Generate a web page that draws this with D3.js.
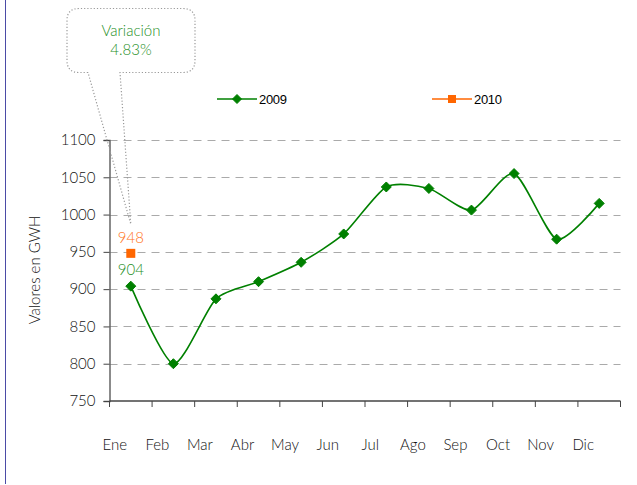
<!DOCTYPE html>
<html>
<head>
<meta charset="utf-8">
<script src="https://cdn.jsdelivr.net/npm/d3@7"></script>
<style>
  html, body { margin: 0; padding: 0; background: #fff; }
  svg { display: block; }
  .tick-label { font-family: Lato, "Open Sans", sans-serif; font-weight: 300; font-size: 15px; fill: #111; }
  .legend-label { font-family: "Liberation Sans", Arial, sans-serif; font-size: 13px; fill: #000; letter-spacing: -0.3px; }
</style>
</head>
<body>
<svg id="chart" width="637" height="485"></svg>
<script>
// data
var months = ["Ene", "Feb", "Mar", "Abr", "May", "Jun", "Jul", "Ago", "Sep", "Oct", "Nov", "Dic"];
var values2009 = [904, 800, 887, 910, 936, 974, 1037, 1035, 1006, 1055, 967, 1015];
var values2010 = [948];
var yTicks = [750, 800, 850, 900, 950, 1000, 1050, 1100];
var variation = "4.83%";

var svg = d3.select("#chart");
var plotLeft = 109.5, plotRight = 620.5, plotTop = 140, plotBottom = 401;
var green = "#008000", orange = "#ff6600";

var x = d3.scaleBand().domain(months).range([plotLeft, plotRight]);
var y = d3.scaleLinear().domain([750, 1100]).range([plotBottom, plotTop]);
var cx = function (i) { return x(months[i]) + x.bandwidth() / 2; };

// left frame line
svg.append("line")
    .attr("x1", 5.5).attr("x2", 5.5).attr("y1", 0).attr("y2", 484)
    .attr("stroke", "#4b4ba6").attr("stroke-width", 1);

// grid
svg.append("g").selectAll("line")
    .data(yTicks.filter(function (d) { return d > 750; }))
    .enter().append("line")
    .attr("x1", plotLeft).attr("x2", plotRight)
    .attr("y1", function (d) { return Math.round(y(d)) + 0.5; })
    .attr("y2", function (d) { return Math.round(y(d)) + 0.5; })
    .attr("stroke", "#aaa").attr("stroke-dasharray", "8,6");

// y axis
var yAxis = svg.append("g")
    .attr("transform", "translate(" + plotLeft + ",0)")
    .call(d3.axisLeft(y).tickValues(yTicks).tickSize(6).tickPadding(8).tickFormat(d3.format("d")));
yAxis.select(".domain").attr("stroke", "#666").attr("stroke-width", 1.5);
yAxis.selectAll(".tick line").attr("stroke", "#444");
yAxis.selectAll(".tick text").attr("class", "tick-label").attr("font-family", null).attr("font-size", null);

// x axis
var xTicks = d3.range(months.length + 1).map(function (i) { return plotLeft + i * x.bandwidth(); });
var xAxis = svg.append("g");
xAxis.append("line")
    .attr("x1", plotLeft).attr("x2", plotRight).attr("y1", plotBottom).attr("y2", plotBottom)
    .attr("stroke", "#444").attr("stroke-width", 1.5);
xAxis.selectAll(".xt").data(xTicks).enter().append("line")
    .attr("x1", function (d) { return d; }).attr("x2", function (d) { return d; })
    .attr("y1", plotBottom).attr("y2", plotBottom + 6)
    .attr("stroke", "#444");
xAxis.selectAll(".xl").data(months).enter().append("text")
    .attr("class", "tick-label")
    .attr("x", function (d, i) { return cx(i) - 16; })
    .attr("y", 450)
    .attr("text-anchor", "middle")
    .text(function (d) { return d; });

// axis title
svg.append("text")
    .attr("class", "tick-label")
    .attr("transform", "translate(40,270) rotate(-90)")
    .attr("text-anchor", "middle")
    .text("Valores en GWH");

// 2009 line
var line = d3.line()
    .x(function (d, i) { return cx(i); })
    .y(function (d) { return y(d); })
    .curve(d3.curveCardinal.tension(0.3));

svg.append("path")
    .datum(values2009)
    .attr("d", line)
    .attr("fill", "none")
    .attr("stroke", green)
    .attr("stroke-width", 1.6);

function diamond(g, px, py, r) {
    g.append("path")
        .attr("d", "M" + px + "," + (py - r) + "L" + (px + r) + "," + py + "L" + px + "," + (py + r) + "L" + (px - r) + "," + py + "Z")
        .attr("fill", green).attr("stroke", green).attr("stroke-width", 1);
}
var marks = svg.append("g");
values2009.forEach(function (v, i) { diamond(marks, cx(i), y(v), 5); });

// 2010 point
values2010.forEach(function (v, i) {
    svg.append("rect")
        .attr("x", cx(i) - 4.5).attr("y", y(v) - 4.5)
        .attr("width", 9).attr("height", 9)
        .attr("fill", orange);
});

// value labels
svg.append("text").attr("class", "tick-label")
    .attr("x", cx(0)).attr("y", y(values2010[0]) - 10)
    .attr("text-anchor", "middle").style("fill", "#ff7220")
    .text(values2010[0]);
svg.append("text").attr("class", "tick-label")
    .attr("x", cx(0)).attr("y", y(values2009[0]) - 11)
    .attr("text-anchor", "middle").style("fill", "#1f8f1f")
    .text(values2009[0]);

// callout
var bx0 = 67, bx1 = 195, by0 = 8.5, by1 = 72.5, r = 12;
var tipX = cx(0), tipY = y(987);
var callout = "M88," + by1 +
    "L" + (bx0 + r) + "," + by1 +
    "Q" + bx0 + "," + by1 + " " + bx0 + "," + (by1 - r) +
    "L" + bx0 + "," + (by0 + r) +
    "Q" + bx0 + "," + by0 + " " + (bx0 + r) + "," + by0 +
    "L" + (bx1 - r) + "," + by0 +
    "Q" + bx1 + "," + by0 + " " + bx1 + "," + (by0 + r) +
    "L" + bx1 + "," + (by1 - r) +
    "Q" + bx1 + "," + by1 + " " + (bx1 - r) + "," + by1 +
    "L120," + by1 +
    "L" + tipX + "," + tipY + "Z";
svg.append("path")
    .attr("d", callout)
    .attr("fill", "none")
    .attr("stroke", "#999")
    .attr("stroke-width", 1.2)
    .attr("stroke-dasharray", "1.2,2");
svg.append("text").attr("class", "tick-label")
    .attr("x", 131).attr("y", 36).attr("text-anchor", "middle").style("fill", "#1f8f1f")
    .text("Variación");
svg.append("text").attr("class", "tick-label")
    .attr("x", 131).attr("y", 55).attr("text-anchor", "middle").style("fill", "#1f8f1f")
    .text(variation);

// legend
var legend = [
    { name: "2009", color: green, x: 217, shape: "diamond" },
    { name: "2010", color: orange, x: 432, shape: "square" }
];
legend.forEach(function (d) {
    var g = svg.append("g");
    g.append("line").attr("x1", d.x).attr("x2", d.x + 40).attr("y1", 99).attr("y2", 99)
        .attr("stroke", d.color).attr("stroke-width", 1.5);
    if (d.shape === "diamond") {
        diamond(g, d.x + 20, 99, 4.5);
    } else {
        g.append("rect").attr("x", d.x + 16).attr("y", 95).attr("width", 8).attr("height", 8).attr("fill", d.color);
    }
    g.append("text").attr("class", "legend-label")
        .attr("x", d.x + 42).attr("y", 103.5)
        .text(d.name);
});
</script>
</body>
</html>
